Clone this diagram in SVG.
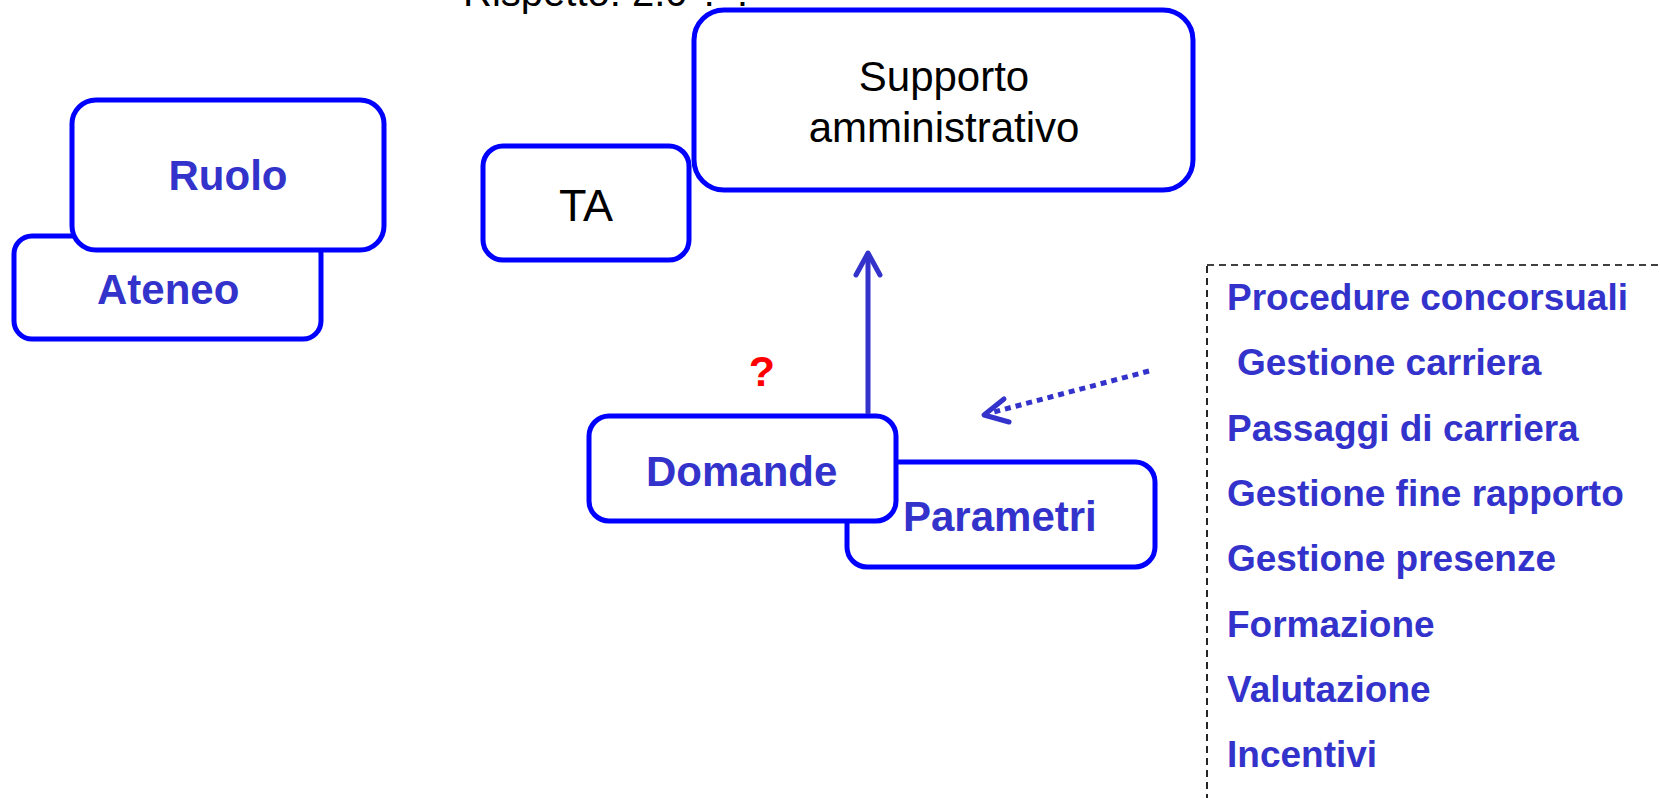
<svg xmlns="http://www.w3.org/2000/svg" width="1660" height="798" viewBox="0 0 1660 798">
<style>
.box{fill:#fff;stroke:#0000ff;stroke-width:5}
.bt{font-family:"Liberation Sans",Arial,sans-serif;font-weight:bold;fill:#3333cc}
.nt{font-family:"Liberation Sans",Arial,sans-serif;fill:#000}
.conn{fill:none;stroke:#3333cc;stroke-width:5}
.li{font-family:"Liberation Sans",Arial,sans-serif;font-weight:bold;fill:#3333cc;font-size:37px}
</style>
<rect width="1660" height="798" fill="#fff"/>
<text class="nt" x="463" y="6" font-size="40">Rispetto: 2.0 ? ?</text>
<g id="ateneo">
<rect class="box" x="14" y="236" width="307" height="103" rx="18"/>
<text class="bt" x="97" y="304" font-size="42">Ateneo</text>
</g>
<g id="ruolo">
<rect class="box" x="72" y="100" width="312" height="150" rx="24"/>
<text class="bt" x="228" y="190" font-size="42" text-anchor="middle">Ruolo</text>
</g>
<g id="ta">
<rect class="box" x="483" y="146" width="206" height="114" rx="20"/>
<text class="nt" x="586" y="221" font-size="45" text-anchor="middle">TA</text>
</g>
<g id="supporto">
<rect class="box" x="694" y="10" width="499" height="180" rx="30"/>
<text class="nt" x="944" y="91" font-size="42" text-anchor="middle">Supporto</text>
<text class="nt" x="944" y="142" font-size="42" text-anchor="middle">amministrativo</text>
</g>
<g id="parametri">
<rect class="box" x="847" y="462" width="308" height="105" rx="20"/>
<text class="bt" x="903" y="531" font-size="42">Parametri</text>
</g>
<g id="domande">
<rect class="box" x="589" y="416" width="307" height="105" rx="20"/>
<text class="bt" x="646" y="486" font-size="42">Domande</text>
</g>
<g id="question">
<text x="762" y="386" font-family="Liberation Sans,Arial,sans-serif" font-weight="bold" font-size="43" fill="#ff0000" text-anchor="middle">?</text>
</g>
<g id="connectors">
<line class="conn" x1="868" y1="414" x2="868" y2="254"/>
<polyline class="conn" points="856,275 868,253 880,275" stroke-linejoin="round" stroke-linecap="round"/>
<line class="conn" x1="1149" y1="371" x2="990" y2="413" stroke-dasharray="6,5"/>
<polyline class="conn" points="1004,399 984,415 1009,422" stroke-linejoin="round" stroke-linecap="round"/>
</g>
<g id="elenco">
<rect x="1207" y="265" width="500" height="560" fill="none" stroke="#000" stroke-width="1.7" stroke-dasharray="7,5"/>
<text class="li" x="1227" y="310">Procedure concorsuali</text>
<text class="li" x="1237" y="375">Gestione carriera</text>
<text class="li" x="1227" y="441">Passaggi di carriera</text>
<text class="li" x="1227" y="506">Gestione fine rapporto</text>
<text class="li" x="1227" y="571">Gestione presenze</text>
<text class="li" x="1227" y="637">Formazione</text>
<text class="li" x="1227" y="702">Valutazione</text>
<text class="li" x="1227" y="767">Incentivi</text>
</g>
</svg>
